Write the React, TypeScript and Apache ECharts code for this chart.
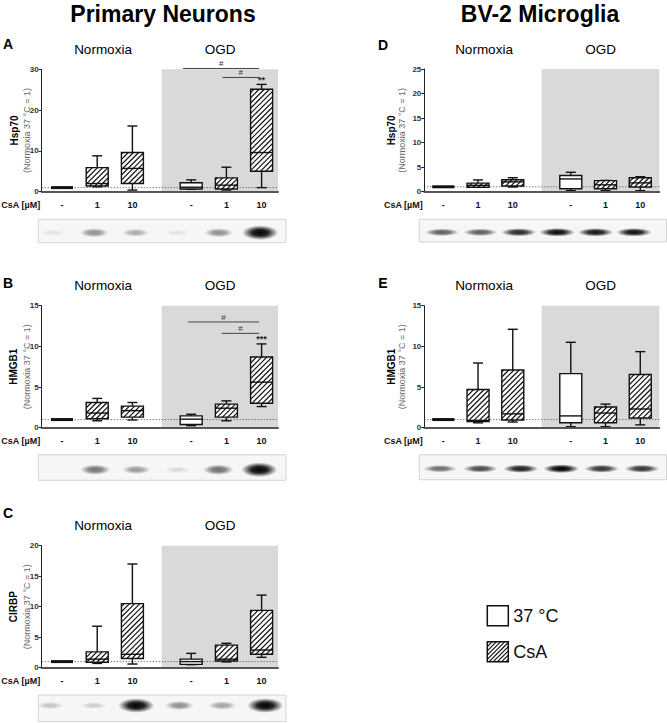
import React, { useEffect, useRef } from "react";
import * as echarts from "echarts";

const FONT = '"Liberation Sans", Arial, Helvetica, sans-serif';

// ---- conditions (x positions on the value axis, dose labels, treatment) ----
const conditionGroups = ["Normoxia", "OGD"];
const csaDoses = ["-", "1", "10", "-", "1", "10"];
const conditionIsCsA = [false, true, true, false, true, true];
const conditionX = [1, 2, 3, 4.67, 5.67, 6.67];
const legendItems = ["37 °C", "CsA"];

// ---- box statistics [min, Q1, median, Q3, max] (fold of Normoxia 37 °C) ----
const neuronsHsp70 = [
  [1, 1, 1, 1, 1],
  [1.2, 1.4, 2.0, 5.9, 8.8],
  [0.4, 2.0, 5.7, 9.6, 16.1],
  [0.6, 0.65, 1.1, 2.2, 2.9],
  [0.4, 0.65, 1.6, 3.4, 6.0],
  [1.0, 5.0, 9.6, 25.1, 26.3],
];
const neuronsHMGB1 = [
  [1, 1, 1, 1, 1],
  [0.85, 1.1, 1.8, 3.1, 3.6],
  [0.95, 1.3, 2.1, 2.65, 3.1],
  [0.25, 0.4, 1.05, 1.45, 1.65],
  [0.85, 1.3, 2.4, 2.9, 3.3],
  [2.6, 3.0, 5.6, 8.7, 10.3],
];
const neuronsCIRBP = [
  [1, 1, 1, 1, 1],
  [0.7, 0.9, 1.4, 2.6, 6.8],
  [0.6, 1.5, 2.2, 10.5, 17.0],
  [0.5, 0.55, 1.0, 1.4, 2.35],
  [0.95, 1.1, 1.4, 3.7, 4.0],
  [1.7, 2.2, 2.9, 9.4, 11.9],
];
const microgliaHsp70 = [
  [1, 1, 1, 1, 1],
  [0.9, 0.9, 1.3, 1.75, 2.4],
  [0.95, 1.15, 2.0, 2.45, 2.85],
  [0.2, 0.6, 2.6, 3.3, 3.95],
  [0.2, 0.6, 1.4, 2.25, 2.3],
  [0.2, 0.95, 1.8, 2.85, 3.05],
];
const microgliaHMGB1 = [
  [1, 1, 1, 1, 1],
  [0.6, 0.75, 0.9, 4.7, 7.95],
  [0.7, 0.95, 1.7, 7.1, 12.1],
  [0.12, 0.6, 1.45, 6.65, 10.5],
  [0.12, 0.6, 1.8, 2.55, 2.9],
  [0.35, 1.2, 2.3, 6.55, 9.35],
];

// ---- significance brackets [x from, x to, y] and labels ----
const neuronsHsp70Sig = [[4.44, 6.6, 30.2], [5.56, 6.6, 28.0]];
const neuronsHsp70SigLabels = ["#", "#"];
const neuronsHsp70Stars = [[6.67, 27.3, "**"]];
const neuronsHMGB1Sig = [[4.58, 6.6, 13.0], [5.54, 6.6, 11.6]];
const neuronsHMGB1SigLabels = ["#", "#"];
const neuronsHMGB1Stars = [[6.67, 10.95, "***"]];

// ---- western blot band intensities (relative darkness per lane) ----
const blotNeuronsHsp70 = [0.03, 0.38, 0.26, 0.03, 0.38, 1.0];
const blotNeuronsHMGB1 = [0.0, 0.5, 0.34, 0.07, 0.52, 1.0];
const blotNeuronsCIRBP = [0.16, 0.12, 1.0, 0.38, 0.3, 1.0];
const blotMicrogliaHsp70 = [0.5, 0.5, 0.75, 0.9, 0.85, 0.88];
const blotMicrogliaHMGB1 = [0.42, 0.6, 0.8, 0.98, 0.7, 0.7];

const BASELINE = 1;
const OGD_START = 3.83;

const LEFT_X = { min: 0.423, max: 7.136 };
const RIGHT_X = { min: 0.453, max: 7.218 };

const panels = [
  {
    letter: "A", letterPos: [8, 44], protein: "Hsp70",
    grid: { left: 41.7, top: 69.3, width: 236.3, height: 122.4 },
    xr: LEFT_X, yMax: 30, yInt: 10, boxes: neuronsHsp70,
    sig: neuronsHsp70Sig, sigLabels: neuronsHsp70SigLabels, stars: neuronsHsp70Stars,
    nameDx: [-27, -14.5], groupX: [103, 220],
    blot: blotNeuronsHsp70, blotRect: [38.3, 219.3, 247.7, 23.4], bandY: 232.7,
    laneStart: 14.4, laneStep: 41.5, bandKind: "n",
  },
  {
    letter: "B", letterPos: [8, 283], protein: "HMGB1",
    grid: { left: 41.7, top: 305.7, width: 236.3, height: 122 },
    xr: LEFT_X, yMax: 15, yInt: 5, boxes: neuronsHMGB1,
    sig: neuronsHMGB1Sig, sigLabels: neuronsHMGB1SigLabels, stars: neuronsHMGB1Stars,
    nameDx: [-28, -14.5], groupX: [103, 220],
    blot: blotNeuronsHMGB1, blotRect: [38.3, 454.7, 247.7, 25.6], bandY: 469.7,
    laneStart: 16, laneStep: 41, bandKind: "n",
  },
  {
    letter: "C", letterPos: [8, 513], protein: "CIRBP",
    grid: { left: 41.7, top: 545.7, width: 236.3, height: 122 },
    xr: LEFT_X, yMax: 20, yInt: 5, boxes: neuronsCIRBP,
    sig: [], sigLabels: [], stars: [],
    nameDx: [-28, -14.5], groupX: [103, 220],
    blot: blotNeuronsCIRBP, blotRect: [38.3, 695, 247.7, 26.7], bandY: 705.5,
    laneStart: 12, laneStep: 43, bandKind: "n",
  },
  {
    letter: "D", letterPos: [383, 45], protein: "Hsp70",
    grid: { left: 424.3, top: 69, width: 235, height: 122.7 },
    xr: RIGHT_X, yMax: 25, yInt: 5, boxes: microgliaHsp70,
    sig: [], sigLabels: [], stars: [],
    nameDx: [-33, -22], groupX: [484, 600.7],
    blot: blotMicrogliaHsp70, blotRect: [419.3, 219.3, 247.2, 22.7], bandY: 232.3,
    laneStart: 22.7, laneStep: 38.4, bandKind: "m",
  },
  {
    letter: "E", letterPos: [383, 283], protein: "HMGB1",
    grid: { left: 424.3, top: 305.7, width: 235, height: 122 },
    xr: RIGHT_X, yMax: 15, yInt: 5, boxes: microgliaHMGB1,
    sig: [], sigLabels: [], stars: [],
    nameDx: [-33, -22.5], groupX: [484, 600.7],
    blot: blotMicrogliaHMGB1, blotRect: [419.3, 454.7, 247.2, 25], bandY: 468.7,
    laneStart: 20.7, laneStep: 40.4, bandKind: "m",
  },
];

function hatchLines(x0: number, y0: number, x1: number, y1: number, step: number) {
  const out: number[][] = [];
  const kStart = Math.ceil((x0 + y0) / step) * step;
  for (let k = kStart; k <= x1 + y1; k += step) {
    const sx = Math.max(x0, k - y1);
    const ex = Math.min(x1, k - y0);
    if (ex - sx > 0.3) out.push([sx, k - sx, ex, k - ex]);
  }
  return out;
}

const seg = (x1: number, y1: number, x2: number, y2: number, lw = 1.4, stroke = "#111") => ({
  type: "line",
  shape: { x1, y1, x2, y2 },
  style: { stroke, lineWidth: lw, fill: "none" },
});

function buildOption() {
  const grids: any[] = [];
  const xAxes: any[] = [];
  const yAxes: any[] = [];
  const series: any[] = [];
  const graphics: any[] = [];

  panels.forEach((p, pi) => {
    grids.push({ ...p.grid, containLabel: false });
    xAxes.push({
      gridIndex: pi, type: "value", min: p.xr.min, max: p.xr.max, z: 6,
      axisLine: { show: true, onZero: false, lineStyle: { color: "#555", width: 2 } },
      axisTick: { show: false }, axisLabel: { show: false }, splitLine: { show: false },
    });
    yAxes.push({
      gridIndex: pi, type: "value", min: 0, max: p.yMax, interval: p.yInt, z: 6,
      axisLine: { show: true, lineStyle: { color: "#222", width: 1 } },
      axisTick: { show: true, length: 3, lineStyle: { color: "#222", width: 1 } },
      axisLabel: { fontSize: 8, fontWeight: "bold", color: "#333", margin: 3, fontFamily: FONT },
      splitLine: { show: false },
    });

    // OGD shading + baseline dotted line
    series.push({
      type: "custom", xAxisIndex: pi, yAxisIndex: pi, z: 1, silent: true, clip: false,
      data: [[OGD_START, BASELINE]],
      renderItem: (params: any, api: any) => {
        const tl = api.coord([api.value(0), p.yMax]);
        const br = api.coord([p.xr.max, 0]);
        const l0 = api.coord([p.xr.min, api.value(1)]);
        const l1 = api.coord([p.xr.max, api.value(1)]);
        return {
          type: "group",
          children: [
            { type: "rect", shape: { x: tl[0], y: tl[1], width: br[0] - tl[0], height: br[1] - tl[1] }, style: { fill: "#d9d9d9" } },
            { type: "line", shape: { x1: l0[0], y1: l0[1], x2: l1[0], y2: l1[1] }, style: { stroke: "#444", lineWidth: 1, lineDash: [1, 2] } },
          ],
        };
      },
    });

    // boxes
    series.push({
      type: "custom", xAxisIndex: pi, yAxisIndex: pi, z: 3, silent: true, clip: false,
      encode: { x: 0, y: [1, 2, 3, 4, 5] },
      data: p.boxes.map((b, i) => [conditionX[i], ...b]),
      renderItem: (params: any, api: any) => {
        const i = params.dataIndex;
        const x = api.value(0);
        const c = (v: number) => api.coord([x, v]);
        const cx = c(api.value(1))[0];
        const yMin = c(api.value(1))[1];
        const yQ1 = c(api.value(2))[1];
        const yMed = c(api.value(3))[1];
        const yQ3 = c(api.value(4))[1];
        const yMax = c(api.value(5))[1];
        const y0 = c(0)[1];
        const hw = 11, cw = 5;
        const ch: any[] = [];
        ch.push(seg(cx, yQ3, cx, yMax), seg(cx - cw, yMax, cx + cw, yMax));
        ch.push(seg(cx, yQ1, cx, yMin), seg(cx - cw, yMin, cx + cw, yMin));
        const h = Math.max(yQ1 - yQ3, 0);
        ch.push({ type: "rect", shape: { x: cx - hw, y: yQ3, width: 2 * hw, height: h }, style: { fill: "#fff" } });
        if (conditionIsCsA[i] && h > 1) {
          hatchLines(cx - hw, yQ3, cx + hw, yQ1, 5.2).forEach((l) => ch.push(seg(l[0], l[1], l[2], l[3], 1.2)));
        }
        ch.push({ type: "rect", shape: { x: cx - hw, y: yQ3, width: 2 * hw, height: h }, style: { fill: "none", stroke: "#111", lineWidth: 1.4 } });
        ch.push(seg(cx - hw, yMed, cx + hw, yMed, h < 1 ? 3 : 1.4));
        ch.push({
          type: "text", x: cx, y: y0 + 13,
          style: { text: csaDoses[i], fontSize: 9, fontWeight: "bold", fontFamily: FONT, fill: "#111", align: "center", verticalAlign: "middle" },
        });
        return { type: "group", children: ch };
      },
    });

    // significance brackets
    if (p.sig.length) {
      series.push({
        type: "custom", xAxisIndex: pi, yAxisIndex: pi, z: 4, silent: true, clip: false,
        data: p.sig,
        renderItem: (params: any, api: any) => {
          const a = api.coord([api.value(0), api.value(2)]);
          const b = api.coord([api.value(1), api.value(2)]);
          return {
            type: "group",
            children: [
              seg(a[0], a[1], b[0], b[1], 1, "#444"),
              {
                type: "text", x: (a[0] + b[0]) / 2, y: a[1] - 4.5,
                style: { text: p.sigLabels[params.dataIndex], fontSize: 8, fontFamily: FONT, fill: "#333", align: "center", verticalAlign: "middle" },
              },
            ],
          };
        },
      });
      series.push({
        type: "custom", xAxisIndex: pi, yAxisIndex: pi, z: 4, silent: true, clip: false,
        data: p.stars.map((s) => [s[0], s[1]]),
        renderItem: (params: any, api: any) => {
          const a = api.coord([api.value(0), api.value(1)]);
          return {
            type: "text", x: a[0], y: a[1],
            style: { text: p.stars[params.dataIndex][2] as string, fontSize: 9, fontWeight: "bold", fontFamily: FONT, fill: "#222", align: "center", verticalAlign: "middle" },
          };
        },
      });
    }

    // texts
    const g = p.grid;
    const bottom = g.top + g.height;
    const midY = g.top + g.height / 2;
    graphics.push(
      { type: "text", x: p.letterPos[0], y: p.letterPos[1], style: { text: p.letter, fontSize: 14, fontWeight: "bold", fontFamily: FONT, fill: "#000", align: "center", verticalAlign: "middle" } },
      { type: "text", x: p.groupX[0], y: g.top - 20, style: { text: conditionGroups[0], fontSize: 13.5, fontFamily: FONT, fill: "#000", align: "center", verticalAlign: "middle" } },
      { type: "text", x: p.groupX[1], y: g.top - 20, style: { text: conditionGroups[1], fontSize: 13.5, fontFamily: FONT, fill: "#000", align: "center", verticalAlign: "middle" } },
      { type: "text", x: g.left - 1.5, y: bottom + 13, style: { text: "CsA [µM]", fontSize: 9, fontWeight: "bold", fontFamily: FONT, fill: "#111", align: "right", verticalAlign: "middle" } },
      { type: "text", x: g.left + p.nameDx[0], y: midY, rotation: Math.PI / 2, style: { text: p.protein, fontSize: 10, fontWeight: "bold", fontFamily: FONT, fill: "#000", align: "center", verticalAlign: "middle" } },
      { type: "text", x: g.left + p.nameDx[1], y: midY, rotation: Math.PI / 2, style: { text: "(Normoxia 37 °C = 1)", fontSize: 9, fontFamily: FONT, fill: "#666", align: "center", verticalAlign: "middle" } },
    );

    // blot
    const [bx, by, bw, bh] = p.blotRect;
    const blotChildren: any[] = [
      { type: "rect", shape: { x: bx, y: by, width: bw, height: bh }, style: { fill: "#f6f6f6", stroke: "#d4d4d4", lineWidth: 1 } },
    ];
    p.blot.forEach((v, i) => {
      if (v <= 0.01) return;
      const cx = bx + p.laneStart + i * p.laneStep;
      const rx = p.bandKind === "n" ? 12 + 6 * v : 16 + 2 * v;
      const ry = p.bandKind === "n" ? 2.8 + 4.5 * v : 3.2 + 1.2 * v;
      const a = p.bandKind === "n" ? Math.min(1, 0.95 * v + 0.05) : Math.min(1, 0.2 + 0.85 * v);
      blotChildren.push({
        type: "ellipse",
        shape: { cx, cy: p.bandY, rx, ry },
        style: {
          fill: {
            type: "radial", x: 0.5, y: 0.5, r: 0.5,
            colorStops: [
              { offset: 0, color: `rgba(0,0,0,${a})` },
              { offset: 0.45, color: `rgba(0,0,0,${a * 0.85})` },
              { offset: 1, color: "rgba(0,0,0,0)" },
            ],
          },
        },
      });
    });
    graphics.push({ type: "group", children: blotChildren });
  });

  // titles
  graphics.push(
    { type: "text", x: 163, y: 14, style: { text: "Primary Neurons", fontSize: 23, fontWeight: "bold", fontFamily: FONT, fill: "#000", align: "center", verticalAlign: "middle" } },
    { type: "text", x: 540, y: 14, style: { text: "BV-2 Microglia", fontSize: 23, fontWeight: "bold", fontFamily: FONT, fill: "#000", align: "center", verticalAlign: "middle" } },
  );

  // legend
  const lx = 487.3, ly = [605.7, 641.7], ls = 20;
  legendItems.forEach((name, i) => {
    const ch: any[] = [{ type: "rect", shape: { x: lx, y: ly[i], width: ls + 1, height: ls }, style: { fill: "#fff" } }];
    if (i === 1) {
      hatchLines(lx, ly[i], lx + ls + 1, ly[i] + ls, 4.2).forEach((l) => ch.push(seg(l[0], l[1], l[2], l[3], 1.2)));
    }
    ch.push({ type: "rect", shape: { x: lx, y: ly[i], width: ls + 1, height: ls }, style: { fill: "none", stroke: "#111", lineWidth: 1.5 } });
    ch.push({ type: "text", x: lx + 26, y: ly[i] + ls / 2 + 0.5, style: { text: name, fontSize: 18, fontFamily: FONT, fill: "#111", align: "left", verticalAlign: "middle" } });
    graphics.push({ type: "group", children: ch });
  });

  return {
    animation: false,
    backgroundColor: "#fff",
    grid: grids,
    xAxis: xAxes,
    yAxis: yAxes,
    series,
    graphic: graphics,
  };
}

export default function App() {
  const ref = useRef<HTMLDivElement>(null);
  useEffect(() => {
    if (!ref.current) return;
    const chart = echarts.init(ref.current, undefined, { renderer: "svg" });
    chart.setOption(buildOption() as any);
    return () => chart.dispose();
  }, []);
  return <div ref={ref} style={{ position: "absolute", left: 0, top: 0, width: 667, height: 723 }} />;
}
